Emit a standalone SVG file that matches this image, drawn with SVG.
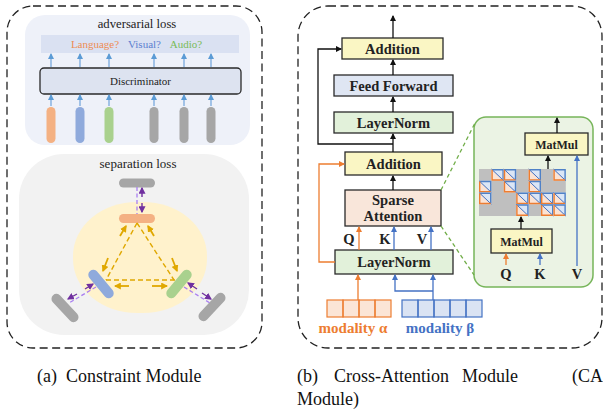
<svg xmlns="http://www.w3.org/2000/svg" xmlns:xlink="http://www.w3.org/1999/xlink" width="603" height="416" viewBox="0 0 603 416">
  <style>
    .serif { font-family: "Liberation Serif", "Times New Roman", serif; }
    .bold { font-family: "Liberation Serif", "Times New Roman", serif; font-weight: bold; }
    .frame { fill: none; stroke: #222; stroke-width: 1.3; stroke-dasharray: 8 4.5; }
    .box { stroke: #2a2a2a; stroke-width: 1.3; }
    .add { fill: #faf6c4; }
    .ff { fill: #dfe6f3; }
    .ln { fill: #e2f1da; }
    .sa { fill: #f9e6da; }
    .a-blk { fill: none; stroke: #111; stroke-width: 1.3; marker-end: url(#hBlk); }
    .a-org { fill: none; stroke: #ed7d31; stroke-width: 1.3; marker-end: url(#hOrg); }
    .a-blu { fill: none; stroke: #4472c4; stroke-width: 1.3; marker-end: url(#hBlu); }
    .a-lb { fill: none; stroke: #6fa3da; stroke-width: 1.2; marker-end: url(#hLb); }
    .a-gold { fill: none; stroke: #e0a800; stroke-width: 1.8; marker-end: url(#hGold); }
    .a-pur { fill: none; stroke: #7030a0; stroke-width: 1.4; marker-end: url(#hPur); }
    .d-gold { fill: none; stroke: #e0a800; stroke-width: 1.4; stroke-dasharray: 5 3; }
    .d-pur { fill: none; stroke: #a97ef0; stroke-width: 1.3; stroke-dasharray: 4 2.5; }
    .d-grn { fill: none; stroke: #70ad47; stroke-width: 1.3; stroke-dasharray: 4 3; }
    .tok { fill: none; stroke-width: 1.2; }
  </style>
  <defs>
    <marker id="hBlk" viewBox="0 0 6 6" refX="5" refY="3" markerWidth="6" markerHeight="6" markerUnits="userSpaceOnUse" orient="auto"><path d="M0,0 L6,3 L0,6 z" fill="#111"/></marker>
    <marker id="hOrg" viewBox="0 0 6 6" refX="5" refY="3" markerWidth="6" markerHeight="6" markerUnits="userSpaceOnUse" orient="auto"><path d="M0,0 L6,3 L0,6 z" fill="#ed7d31"/></marker>
    <marker id="hBlu" viewBox="0 0 6 6" refX="5" refY="3" markerWidth="6" markerHeight="6" markerUnits="userSpaceOnUse" orient="auto"><path d="M0,0 L6,3 L0,6 z" fill="#4472c4"/></marker>
    <marker id="hLb" viewBox="0 0 6 6" refX="5" refY="3" markerWidth="6" markerHeight="6" markerUnits="userSpaceOnUse" orient="auto"><path d="M0,0 L6,3 L0,6 z" fill="#5b9bd5"/></marker>
    <marker id="hGold" viewBox="0 0 6 6" refX="5" refY="3" markerWidth="7" markerHeight="7" markerUnits="userSpaceOnUse" orient="auto"><path d="M0,0 L6,3 L0,6 z" fill="#e0a800"/></marker>
    <marker id="hPur" viewBox="0 0 6 6" refX="5" refY="3" markerWidth="7" markerHeight="7" markerUnits="userSpaceOnUse" orient="auto"><path d="M0,0 L6,3 L0,6 z" fill="#7030a0"/></marker>
    <!-- one attended cell of the sparse score matrix -->
    <g id="cell">
      <polygon points="0,0 0,11.75 12.4,11.75" fill="#fbe3d4"/>
      <polygon points="0,0 12.4,0 12.4,11.75" fill="#dbe6f6"/>
      <line x1="0" y1="0" x2="12.4" y2="11.75" stroke="#4472c4" stroke-width="1"/>
      <polyline points="0.7,0.7 11.7,0.7 11.7,11.05" fill="none" stroke="#4f81c7" stroke-width="1.4"/>
      <polyline points="0.7,0.7 0.7,11.05 11.7,11.05" fill="none" stroke="#ed7d31" stroke-width="1.4"/>
    </g>
  </defs>

  <rect width="603" height="416" fill="#fff"/>

  <!-- ===== (a) Constraint module ===== -->
  <rect class="frame" x="7" y="6" width="255" height="342" rx="26"/>

  <g id="adversarial">
    <rect x="25" y="15" width="225" height="130" rx="20" fill="#eef1f9"/>
    <text class="serif" x="137" y="28" font-size="12.7" text-anchor="middle" fill="#222">adversarial loss</text>
    <rect x="41" y="35" width="198" height="18" fill="#dae1f2"/>
    <text class="serif" x="95" y="47.5" font-size="11" text-anchor="middle" fill="#ee8c52">Language?</text>
    <text class="serif" x="144.5" y="47.5" font-size="11" text-anchor="middle" fill="#5b7fd0">Visual?</text>
    <text class="serif" x="186" y="47.5" font-size="11" text-anchor="middle" fill="#79bb58">Audio?</text>
  </g>
  <g id="discriminator">
    <rect class="box" x="40" y="68" width="201" height="26" rx="4" fill="#dde3f0"/>
    <text class="serif" x="140.5" y="85" font-size="11" text-anchor="middle" fill="#222">Discriminator</text>
  </g>
  <g id="features">
    <rect x="46.5" y="107" width="9" height="36" rx="4.5" fill="#f4b183"/>
    <rect x="75.5" y="107" width="9" height="36" rx="4.5" fill="#8faadc"/>
    <rect x="104.5" y="107" width="9" height="36" rx="4.5" fill="#a9d18e"/>
    <rect x="149.5" y="107" width="9" height="36" rx="4.5" fill="#a6a6a6"/>
    <rect x="179.5" y="107" width="9" height="36" rx="4.5" fill="#a6a6a6"/>
    <rect x="206.5" y="107" width="9" height="36" rx="4.5" fill="#a6a6a6"/>
  </g>

  <g id="separation">
    <rect x="19" y="154" width="230" height="181" rx="45" fill="#f2f2f2"/>
    <text class="serif" x="138" y="168" font-size="13" text-anchor="middle" fill="#222">separation loss</text>
    <rect x="73" y="202" width="134" height="111" rx="64" ry="54" fill="#fff2cc"/>
  </g>
  <g id="sep-tokens">
    <rect x="119" y="178.5" width="36" height="9" rx="4.5" fill="#a6a6a6"/>
    <rect x="119" y="214" width="36" height="9" rx="4.5" fill="#f4b183"/>
    <rect x="-17" y="-5" width="34" height="10" rx="5" fill="#8faadc" transform="translate(101,284) rotate(50)"/>
    <rect x="-17" y="-5" width="34" height="10" rx="5" fill="#a9d18e" transform="translate(179,284) rotate(-50)"/>
    <rect x="-17.5" y="-5" width="35" height="10" rx="5" fill="#a6a6a6" transform="translate(65,308) rotate(47)"/>
    <rect x="-17.5" y="-5" width="35" height="10" rx="5" fill="#a6a6a6" transform="translate(212,307) rotate(-47)"/>
  </g>

  <g id="connectors-a">
    <!-- discriminator outputs -->
    <line class="a-lb" x1="51" y1="67" x2="51" y2="54"/>
    <line class="a-lb" x1="80" y1="67" x2="80" y2="54"/>
    <line class="a-lb" x1="109" y1="67" x2="109" y2="54"/>
    <line class="a-lb" x1="154" y1="67" x2="154" y2="54"/>
    <line class="a-lb" x1="184" y1="67" x2="184" y2="54"/>
    <line class="a-lb" x1="211" y1="67" x2="211" y2="54"/>
    <!-- discriminator inputs -->
    <line class="a-lb" x1="51" y1="106" x2="51" y2="95"/>
    <line class="a-lb" x1="80" y1="106" x2="80" y2="95"/>
    <line class="a-lb" x1="109" y1="106" x2="109" y2="95"/>
    <line class="a-lb" x1="154" y1="106" x2="154" y2="95"/>
    <line class="a-lb" x1="184" y1="106" x2="184" y2="95"/>
    <line class="a-lb" x1="211" y1="106" x2="211" y2="95"/>
    <!-- shared-space triangle -->
    <line class="d-gold" x1="137" y1="223" x2="106" y2="280"/>
    <line class="d-gold" x1="137" y1="223" x2="174" y2="280"/>
    <line class="d-gold" x1="106" y1="280" x2="176" y2="280"/>
    <line class="a-gold" x1="120" y1="236" x2="126" y2="226"/>
    <line class="a-gold" x1="154" y1="236" x2="148" y2="226"/>
    <line class="a-gold" x1="108" y1="258" x2="103" y2="271"/>
    <line class="a-gold" x1="172" y1="258" x2="177" y2="271"/>
    <line class="a-gold" x1="129" y1="286" x2="115" y2="286"/>
    <line class="a-gold" x1="152" y1="286" x2="167" y2="286"/>
    <!-- private-space pushes -->
    <line class="d-pur" x1="137" y1="187" x2="137" y2="214"/>
    <line class="a-pur" x1="142" y1="197" x2="142" y2="188"/>
    <line class="a-pur" x1="142" y1="203" x2="142" y2="212"/>
    <line class="d-pur" x1="96" y1="287" x2="69" y2="303"/>
    <line class="a-pur" x1="85" y1="289" x2="93" y2="284"/>
    <line class="a-pur" x1="77" y1="294" x2="68" y2="299"/>
    <line class="d-pur" x1="184" y1="287" x2="210" y2="303"/>
    <line class="a-pur" x1="197" y1="289" x2="188" y2="283"/>
    <line class="a-pur" x1="202" y1="293" x2="211" y2="299"/>
  </g>

  <text class="serif" x="37" y="382" font-size="18" fill="#111" xml:space="preserve">(a)  Constraint Module</text>

  <!-- ===== (b) Cross-attention module ===== -->
  <rect class="frame" x="298" y="6" width="304" height="342" rx="30"/>

  <g id="add-top">
    <rect class="box add" x="342" y="38" width="101" height="21"/>
    <text class="bold" x="392.5" y="54" font-size="14.5" text-anchor="middle" fill="#222">Addition</text>
  </g>
  <g id="feed-forward">
    <rect class="box ff" x="334" y="75" width="119" height="21"/>
    <text class="bold" x="393.5" y="91" font-size="14.5" text-anchor="middle" fill="#222">Feed Forward</text>
  </g>
  <g id="layernorm-top">
    <rect class="box ln" x="334" y="112" width="119" height="21"/>
    <text class="bold" x="393.5" y="128" font-size="14.5" text-anchor="middle" fill="#222">LayerNorm</text>
  </g>
  <g id="add-bottom">
    <rect class="box add" x="345" y="152" width="97" height="23"/>
    <text class="bold" x="393.5" y="169" font-size="14.5" text-anchor="middle" fill="#222">Addition</text>
  </g>
  <g id="sparse-attention">
    <rect class="box sa" x="345" y="190" width="96" height="36"/>
    <text class="bold" x="393" y="205" font-size="14.5" text-anchor="middle" fill="#222">Sparse</text>
    <text class="bold" x="393" y="221" font-size="14.5" text-anchor="middle" fill="#222">Attention</text>
  </g>
  <g id="qkv-labels">
    <text class="bold" x="349" y="244" font-size="14.5" text-anchor="middle" fill="#222">Q</text>
    <text class="bold" x="385" y="244" font-size="14.5" text-anchor="middle" fill="#222">K</text>
    <text class="bold" x="422" y="244" font-size="14.5" text-anchor="middle" fill="#222">V</text>
  </g>
  <g id="layernorm-bottom">
    <rect class="box ln" x="335" y="250" width="118" height="24"/>
    <text class="bold" x="394" y="267" font-size="14.5" text-anchor="middle" fill="#222">LayerNorm</text>
  </g>
  <g id="modality-alpha">
    <rect x="327" y="300" width="64" height="17" fill="#fbe5d6"/>
    <rect class="tok" x="327" y="300" width="16" height="17" stroke="#ed7d31"/>
    <rect class="tok" x="343" y="300" width="16" height="17" stroke="#ed7d31"/>
    <rect class="tok" x="359" y="300" width="16" height="17" stroke="#ed7d31"/>
    <rect class="tok" x="375" y="300" width="16" height="17" stroke="#ed7d31"/>
    <text class="bold" x="353" y="333" font-size="15" text-anchor="middle" fill="#ed7d31">modality α</text>
  </g>
  <g id="modality-beta">
    <rect x="402" y="300" width="80" height="17" fill="#dae3f3"/>
    <rect class="tok" x="402" y="300" width="16" height="17" stroke="#4472c4"/>
    <rect class="tok" x="418" y="300" width="16" height="17" stroke="#4472c4"/>
    <rect class="tok" x="434" y="300" width="16" height="17" stroke="#4472c4"/>
    <rect class="tok" x="450" y="300" width="16" height="17" stroke="#4472c4"/>
    <rect class="tok" x="466" y="300" width="16" height="17" stroke="#4472c4"/>
    <text class="bold" x="440" y="333" font-size="15" text-anchor="middle" fill="#4472c4">modality β</text>
  </g>

  <g id="attention-detail">
    <rect x="474" y="117" width="119" height="170" rx="12" fill="#ebf3e4" stroke="#77b55a" stroke-width="1.5"/>
    <g id="matmul-top">
      <rect class="box add" x="525" y="133" width="63" height="22"/>
      <text class="bold" x="556.5" y="148.5" font-size="12" text-anchor="middle" fill="#222">MatMul</text>
    </g>
    <g id="score-matrix">
      <rect x="479" y="169" width="86.8" height="47" fill="#bfbfbf"/>
      <use xlink:href="#cell" x="491.4" y="169"/>
      <use xlink:href="#cell" x="503.8" y="169"/>
      <use xlink:href="#cell" x="528.6" y="169"/>
      <use xlink:href="#cell" x="553.4" y="169"/>
      <use xlink:href="#cell" x="479" y="180.75"/>
      <use xlink:href="#cell" x="503.8" y="180.75"/>
      <use xlink:href="#cell" x="528.6" y="180.75"/>
      <use xlink:href="#cell" x="479" y="192.5"/>
      <use xlink:href="#cell" x="516.2" y="192.5"/>
      <use xlink:href="#cell" x="528.6" y="192.5"/>
      <use xlink:href="#cell" x="541" y="192.5"/>
      <use xlink:href="#cell" x="553.4" y="192.5"/>
      <use xlink:href="#cell" x="516.2" y="204.25"/>
      <use xlink:href="#cell" x="541" y="204.25"/>
      <use xlink:href="#cell" x="553.4" y="204.25"/>
    </g>
    <g id="matmul-bottom">
      <rect class="box add" x="491" y="229" width="61" height="24"/>
      <text class="bold" x="521.5" y="245.5" font-size="12" text-anchor="middle" fill="#222">MatMul</text>
    </g>
    <text class="bold" x="506" y="279" font-size="14.5" text-anchor="middle" fill="#222">Q</text>
    <text class="bold" x="540" y="279" font-size="14.5" text-anchor="middle" fill="#222">K</text>
    <text class="bold" x="577" y="279" font-size="14.5" text-anchor="middle" fill="#222">V</text>
  </g>

  <g id="connectors-b">
    <line class="a-blk" x1="393" y1="38" x2="393" y2="16"/>
    <line class="a-blk" x1="393" y1="75" x2="393" y2="60"/>
    <line class="a-blk" x1="393" y1="112" x2="393" y2="97"/>
    <line class="a-blk" x1="393" y1="152" x2="393" y2="134"/>
    <polyline class="a-blk" points="393,144 318,144 318,49 341,49"/>
    <line class="a-blk" x1="393" y1="190" x2="393" y2="176"/>
    <polyline class="a-org" points="335,262 319,262 319,164 344,164"/>
    <line class="a-org" x1="359" y1="250" x2="359" y2="227"/>
    <line class="a-blu" x1="394" y1="250" x2="394" y2="227"/>
    <line class="a-blu" x1="431" y1="250" x2="431" y2="227"/>
    <line class="a-org" x1="358" y1="300" x2="358" y2="275"/>
    <line class="a-blu" x1="433" y1="300" x2="433" y2="275"/>
    <polyline class="a-blu" points="433,291 395,291 395,275"/>
    <line class="d-grn" x1="441" y1="190" x2="475" y2="123"/>
    <line class="d-grn" x1="441" y1="226" x2="474" y2="275"/>
    <line class="a-blk" x1="557" y1="133" x2="557" y2="118"/>
    <line class="a-blk" x1="548" y1="169" x2="548" y2="156"/>
    <line class="a-blk" x1="521" y1="229" x2="521" y2="217"/>
    <line class="a-org" x1="506" y1="265" x2="506" y2="254"/>
    <line class="a-blu" x1="540" y1="265" x2="540" y2="254"/>
    <line class="a-blu" x1="577" y1="266" x2="577" y2="156"/>
  </g>

  <g id="caption-b" class="serif" font-size="18" fill="#111">
    <text x="297" y="382">(b)</text>
    <text x="334" y="382">Cross-Attention</text>
    <text x="462" y="382">Module</text>
    <text x="572" y="382">(CA</text>
    <text x="297" y="405">Module)</text>
  </g>
</svg>
